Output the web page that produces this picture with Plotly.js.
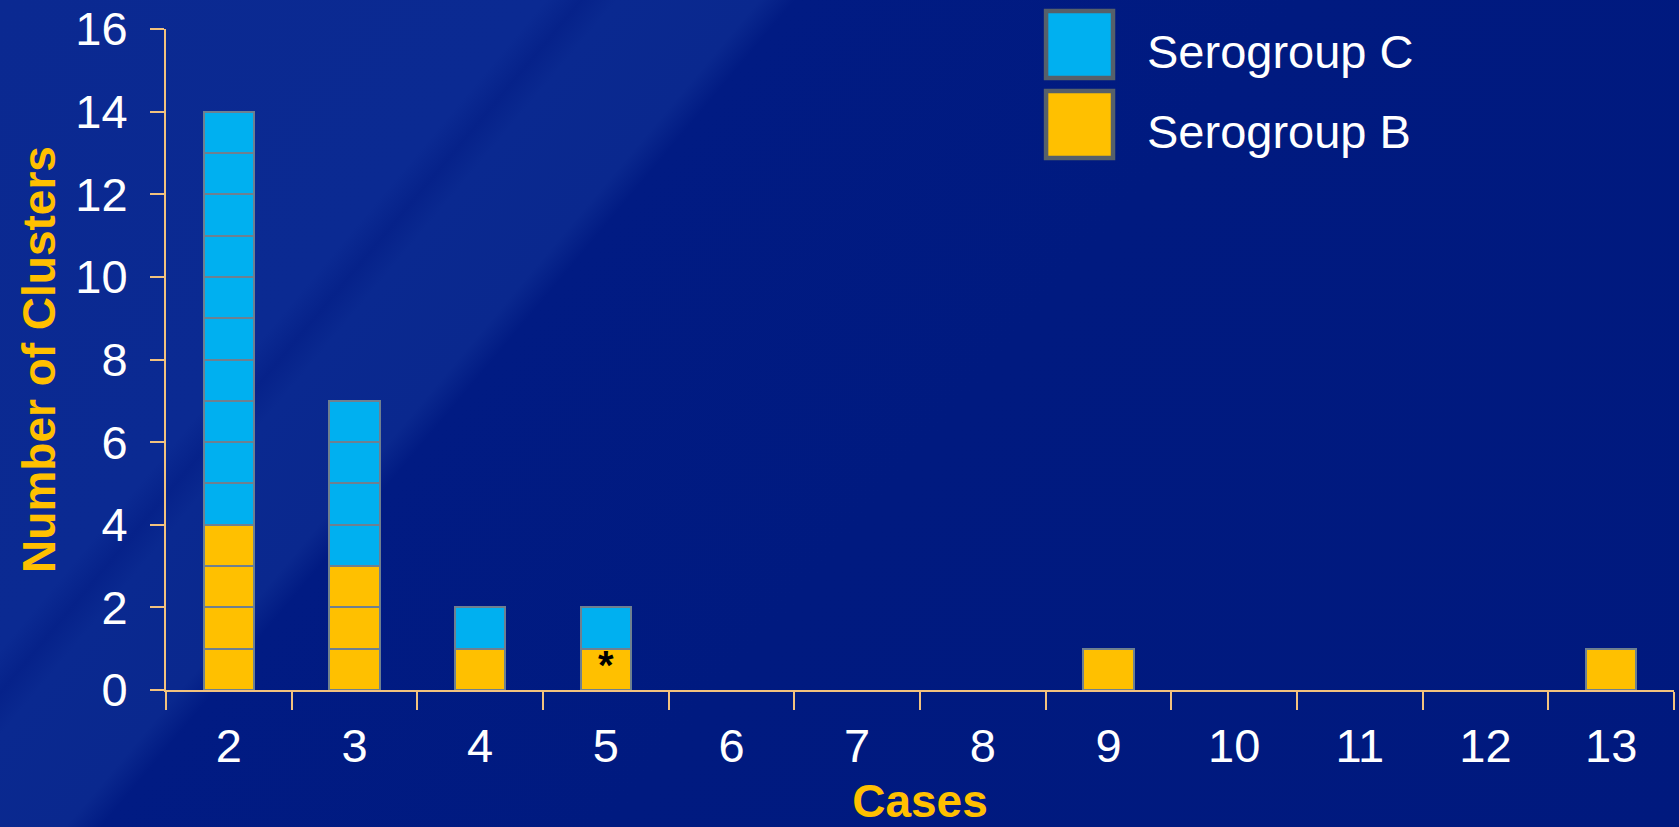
<!DOCTYPE html>
<html>
<head>
<meta charset="utf-8">
<script src="https://cdn.plot.ly/plotly-3.0.1.min.js"></script>
<style>
  html, body { margin: 0; padding: 0; }
  body {
    width: 1679px; height: 827px; overflow: hidden;
    background:
      linear-gradient(130deg, #0b2991 0%, #0b2a92 23%, #06228a 24.5%, #0a2990 26%, #0a288e 32%, #011b83 33.5%, #001a80 55%, #00197e 100%);
  }
  #chart { width: 1679px; height: 827px; }
</style>
</head>
<body>
<div id="chart"></div>
<script>
// ---- data ----
const cases = ['2', '3', '4', '5', '6', '7', '8', '9', '10', '11', '12', '13'];
const serogroupB = [4, 3, 1, 1, 0, 0, 0, 1, 0, 0, 0, 1];
const serogroupC = [10, 4, 1, 1, 0, 0, 0, 0, 0, 0, 0, 0];
const seriesNames = ['Serogroup C', 'Serogroup B'];
const yTicks = [0, 2, 4, 6, 8, 10, 12, 14, 16];
const noteCategory = '5';
const noteText = '*';
const noteValue = 0.6;

// ---- styles ----
const colorB = '#FFC000';
const colorC = '#00B0F0';
const barEdge = '#6E8090';
const axisColor = '#F2C27E';
const fontFam = '"Liberation Sans", Arial, sans-serif';

// each cluster is drawn as its own unit block, stacked
function unitTraces(values, name, color) {
  const maxV = Math.max(...values);
  const out = [];
  for (let k = 1; k <= maxV; k++) {
    out.push({
      type: 'bar',
      name: name,
      x: cases,
      y: values.map(v => (v >= k ? 1 : null)),
      marker: { color: color, line: { color: barEdge, width: 2 } },
      showlegend: false,
      hoverinfo: 'skip'
    });
  }
  return out;
}

const traces = [].concat(
  unitTraces(serogroupB, seriesNames[1], colorB),
  unitTraces(serogroupC, seriesNames[0], colorC)
);

// legend drawn with paper-referenced boxes and labels
const legendItems = [
  { name: seriesNames[0], color: colorC, y0: 1.0272, y1: 0.9259, ty: 0.966 },
  { name: seriesNames[1], color: colorB, y0: 0.9062, y1: 0.8048, ty: 0.845 }
];
const shapes = legendItems.map(it => ({
  type: 'rect', xref: 'paper', yref: 'paper',
  x0: 0.5836, x1: 0.628, y0: it.y0, y1: it.y1,
  fillcolor: it.color, line: { color: '#56606A', width: 4.5 }, layer: 'above'
}));
const annotations = legendItems.map(it => ({
  xref: 'paper', yref: 'paper', x: 0.649, y: it.ty,
  xanchor: 'left', yanchor: 'middle', showarrow: false,
  text: it.name, font: { family: fontFam, size: 47, color: '#FFFFFF' }
}));
annotations.push({
  xref: 'x', yref: 'y', x: cases.indexOf(noteCategory), y: noteValue,
  xanchor: 'center', yanchor: 'middle', showarrow: false,
  text: noteText, font: { family: fontFam, size: 40, color: '#000000', weight: 'bold' }
});

const layout = {
  width: 1679, height: 827,
  margin: { l: 166, r: 5, t: 29, b: 137, pad: 0 },
  paper_bgcolor: 'rgba(0,0,0,0)',
  plot_bgcolor: 'rgba(0,0,0,0)',
  barmode: 'stack',
  bargap: 0.6,
  showlegend: false,
  font: { family: fontFam, color: '#FFFFFF' },
  xaxis: {
    type: 'category',
    tickson: 'boundaries',
    ticks: 'outside', ticklen: 18, tickwidth: 2, tickcolor: axisColor,
    showline: true, linecolor: axisColor, linewidth: 2,
    showgrid: false, zeroline: false,
    tickfont: { family: fontFam, size: 47, color: '#FFFFFF' },
    ticklabelstandoff: 14,
    title: { text: 'Cases', standoff: 31, font: { family: fontFam, size: 46, color: colorB, weight: 'bold' } },
    automargin: false,
    fixedrange: true
  },
  yaxis: {
    range: [0, 16],
    tickvals: yTicks,
    ticks: 'outside', ticklen: 14, tickwidth: 2, tickcolor: axisColor,
    showline: true, linecolor: axisColor, linewidth: 2,
    showgrid: false, zeroline: false,
    tickfont: { family: fontFam, size: 47, color: '#FFFFFF' },
    ticklabelstandoff: 13,
    title: { text: 'Number of Clusters', standoff: 5, font: { family: fontFam, size: 46, color: colorB, weight: 'bold' } },
    automargin: false,
    fixedrange: true
  },
  shapes: shapes,
  annotations: annotations
};

Plotly.newPlot('chart', traces, layout, { displayModeBar: false, staticPlot: true });
</script>
</body>
</html>
